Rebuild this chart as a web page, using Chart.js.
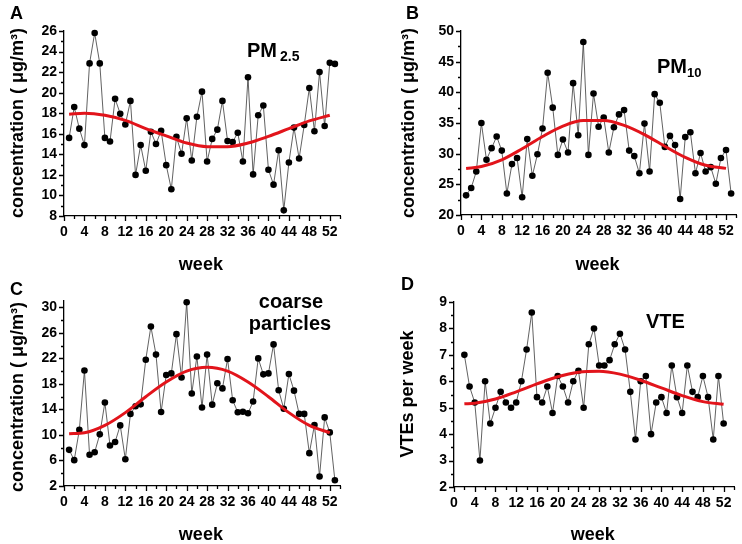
<!DOCTYPE html>
<html>
<head>
<meta charset="utf-8">
<script src="https://cdn.jsdelivr.net/npm/chart.js@4.4.1/dist/chart.umd.min.js"></script>
<style>
  body { margin: 0; background: #fff; }
  #wrap { position: relative; width: 742px; height: 544px; overflow: hidden; }
  .panel { position: absolute; width: 371px; height: 272px; }
</style>
</head>
<body>
<div id="wrap">
  <div class="panel" style="left:0;top:0"><canvas id="chartA" width="371" height="272"></canvas></div>
  <div class="panel" style="left:371px;top:0"><canvas id="chartB" width="371" height="272"></canvas></div>
  <div class="panel" style="left:0;top:272px"><canvas id="chartC" width="371" height="272"></canvas></div>
  <div class="panel" style="left:371px;top:272px"><canvas id="chartD" width="371" height="272"></canvas></div>
</div>
<script>
// weekly values
const weeks = [1,2,3,4,5,6,7,8,9,10,11,12,13,14,15,16,17,18,19,20,21,22,23,24,25,26,27,28,29,30,31,32,33,34,35,36,37,38,39,40,41,42,43,44,45,46,47,48,49,50,51,52,53];
const weeksVte = [2,3,4,5,6,7,8,9,10,11,12,13,14,15,16,17,18,19,20,21,22,23,24,25,26,27,28,29,30,31,32,33,34,35,36,37,38,39,40,41,42,43,44,45,46,47,48,49,50,51,52];

const pm25 = [15.6,18.6,16.5,14.9,22.85,25.8,22.85,15.6,15.25,19.4,17.95,16.9,19.2,12.0,14.9,12.4,16.2,15.0,16.3,12.95,10.6,15.7,14.05,17.5,13.4,17.65,20.1,13.3,15.5,16.4,19.2,15.3,15.2,16.1,13.3,21.5,12.05,17.8,18.75,12.5,11.05,14.4,8.55,13.2,16.6,13.6,16.85,20.45,16.25,22.0,16.75,22.9,22.8];
const pm10 = [23.2,24.4,27.1,35.0,29.0,30.9,32.8,30.5,23.5,28.3,29.3,22.9,32.4,26.4,29.9,34.1,43.2,37.5,29.8,32.3,30.2,41.5,33.0,48.2,29.8,39.8,34.4,35.9,30.2,34.3,36.4,37.1,30.5,29.6,26.8,34.9,27.1,39.7,38.3,31.1,32.9,31.4,22.6,32.7,33.5,26.8,30.1,27.1,27.8,25.1,29.3,30.6,23.5];
const coarse = [7.67,6.05,10.8,20.1,6.9,7.3,10.1,15.1,8.35,8.9,11.5,6.2,13.3,14.5,14.8,21.8,27.0,22.6,13.6,19.4,19.65,25.8,19.0,30.8,16.5,22.3,14.3,22.6,14.75,18.1,17.3,21.9,15.45,13.55,13.65,13.4,15.25,22.0,19.5,19.65,24.2,17.0,14.1,19.55,16.95,13.3,13.3,7.15,11.55,3.5,12.75,10.4,2.9];
const vte = [7.0,5.8,5.2,3.0,6.0,4.4,5.0,5.6,5.2,5.0,5.2,6.0,7.2,8.6,5.4,5.2,5.8,4.8,6.2,5.8,5.2,6.0,6.4,5.0,7.4,8.0,6.6,6.6,6.8,7.4,7.8,7.2,5.6,3.8,6.0,6.2,4.0,5.2,5.4,4.8,6.6,5.4,4.8,6.6,5.6,5.4,6.2,5.4,3.8,6.2,4.4];

// red seasonal fit curves, sampled off the figure
const fitWeeks = [1,4,8,12,16,20,24,28,32,36,40,44,48,52];
const fitWeeksVte = [2,4,8,12,16,20,24,28,32,36,40,44,48,52];
const pm25Fit = [17.9,18.0,17.8,17.3,16.5,15.8,15.1,14.75,14.75,15.1,15.75,16.5,17.25,17.8];
const pm10Fit = [27.6,27.9,29.0,30.8,32.8,34.5,35.4,35.4,34.6,33.1,31.2,29.4,28.1,27.6];
const coarseFit = [10.2,10.35,11.5,13.5,16.0,18.3,20.0,20.6,20.0,18.3,16.0,13.5,11.5,10.35];
const vteFit = [5.15,5.17,5.33,5.6,5.9,6.17,6.34,6.38,6.27,6.04,5.75,5.46,5.23,5.13];

const FONT = '"Liberation Sans", Arial, sans-serif';
Chart.defaults.font.family = FONT;
Chart.defaults.font.size = 14;
Chart.defaults.font.weight = 'bold';
Chart.defaults.color = '#000';

function isMajor(v, start, step) {
  const k = (v - start) / step;
  return Math.abs(k - Math.round(k)) < 1e-6;
}

// minor/major tick marks plus the panel texts
const axisMarks = {
  id: 'axisMarks',
  afterDraw(chart, args, o) {
    const { ctx, scales: { x, y }, chartArea } = chart;
    ctx.save();
    ctx.strokeStyle = '#000';
    ctx.lineWidth = 1.3;
    ctx.beginPath();
    for (let v = x.min; v <= x.max + 1e-6; v += o.xMinor) {
      const px = Math.round(x.getPixelForValue(v)) + 0.5;
      const len = isMajor(v, 0, o.xMajor) ? 5 : 3;
      ctx.moveTo(px, x.top);
      ctx.lineTo(px, x.top + len);
    }
    for (let v = y.min; v <= y.max + 1e-6; v += o.yMinor) {
      const py = Math.round(y.getPixelForValue(v)) + 0.5;
      const len = isMajor(v, y.min, o.yMajor) ? 5 : 3;
      ctx.moveTo(y.right, py);
      ctx.lineTo(y.right - len, py);
    }
    ctx.stroke();

    ctx.fillStyle = '#000';
    ctx.textBaseline = 'alphabetic';
    ctx.textAlign = 'left';
    ctx.font = 'bold 18px ' + FONT;
    ctx.fillText(o.letter, o.letterX, o.letterY);

    o.notes.forEach(n => {
      ctx.font = 'bold ' + n.size + 'px ' + FONT;
      ctx.textAlign = n.align || 'left';
      ctx.fillText(n.text, n.x, n.y);
    });

    ctx.font = 'bold 18px ' + FONT;
    ctx.textAlign = 'center';
    ctx.fillText('week', (chartArea.left + x.getPixelForValue(52)) / 2 + 4, o.weekY);

    ctx.translate(o.titleX, o.titleY);
    ctx.rotate(-Math.PI / 2);
    ctx.textBaseline = 'middle';
    ctx.fillText(o.title, 0, 0);
    ctx.restore();
  }
};

function pairs(xs, ys) {
  return xs.map((w, i) => ({ x: w, y: ys[i] }));
}

function makePanel(id, p) {
  const W = 371, H = 272;
  new Chart(document.getElementById(id), {
    type: 'line',
    data: {
      datasets: [
        {
          data: pairs(p.fitX, p.fit),
          borderColor: '#e2141b',
          borderWidth: 3,
          pointRadius: 0,
          tension: 0.4,
          cubicInterpolationMode: 'monotone',
          fill: false,
          clip: false
        },
        {
          data: pairs(p.obsX, p.obs),
          borderColor: '#3a3a3a',
          borderWidth: 0.8,
          pointRadius: 3.3,
          pointBackgroundColor: '#000',
          pointBorderWidth: 0,
          tension: 0,
          fill: false,
          clip: false
        }
      ]
    },
    options: {
      responsive: false,
      animation: false,
      layout: { padding: { left: 0, top: p.box.top, right: W - p.box.right, bottom: 0 } },
      plugins: {
        legend: { display: false },
        tooltip: { enabled: false },
        axisMarks: p.marks
      },
      scales: {
        x: {
          type: 'linear',
          min: 0,
          max: 54,
          afterFit: s => { s.height = H - p.box.bottom; },
          grid: { display: false, drawTicks: false },
          border: { color: '#000', width: 1.3 },
          ticks: { stepSize: 4, includeBounds: false, autoSkip: false, maxRotation: 0, padding: 8 }
        },
        y: {
          min: p.yMin,
          max: p.yMax,
          afterFit: s => { s.width = p.box.left; },
          grid: { display: false, drawTicks: false },
          border: { color: '#000', width: 1.3 },
          ticks: {
            stepSize: p.marks.yMinor,
            includeBounds: false,
            autoSkip: false,
            padding: 7,
            callback: v => (isMajor(v, p.yMin, p.marks.yMajor) ? v : '')
          }
        }
      }
    },
    plugins: [axisMarks]
  });
}

makePanel('chartA', {
  obsX: weeks, obs: pm25, fitX: fitWeeks, fit: pm25Fit,
  yMin: 8, yMax: 26,
  box: { left: 64, right: 340, top: 31, bottom: 216 },
  marks: {
    xMinor: 2, xMajor: 4, yMinor: 1, yMajor: 2,
    letter: 'A', letterX: 10, letterY: 19, weekY: 270, titleX: 18, titleY: 123,
    title: 'concentration ( \u03bcg/m\u00b3)',
    notes: [{ text: 'PM', x: 247, y: 57, size: 20 }, { text: '2.5', x: 280, y: 61, size: 14 }]
  }
});

makePanel('chartB', {
  obsX: weeks, obs: pm10, fitX: fitWeeks, fit: pm10Fit,
  yMin: 20, yMax: 50,
  box: { left: 90, right: 366, top: 31, bottom: 215 },
  marks: {
    xMinor: 2, xMajor: 4, yMinor: 2.5, yMajor: 5,
    letter: 'B', letterX: 35, letterY: 19, weekY: 270, titleX: 38, titleY: 123,
    title: 'concentration ( \u03bcg/m\u00b3)',
    notes: [{ text: 'PM', x: 286, y: 73, size: 20 }, { text: '10', x: 316, y: 77, size: 13 }]
  }
});

// axis runs one unit past the top tick so the week-24 peak is not cut off
makePanel('chartC', {
  obsX: weeks, obs: coarse, fitX: fitWeeks, fit: coarseFit,
  yMin: 2, yMax: 31,
  box: { left: 64, right: 340, top: 29, bottom: 214 },
  marks: {
    xMinor: 2, xMajor: 4, yMinor: 2, yMajor: 4,
    letter: 'C', letterX: 10, letterY: 23, weekY: 268, titleX: 18, titleY: 125,
    title: 'concentration ( \u03bcg/m\u00b3)',
    notes: [{ text: 'coarse', x: 291, y: 36, size: 20, align: 'center' },
            { text: 'particles', x: 290, y: 58, size: 20, align: 'center' }]
  }
});

makePanel('chartD', {
  obsX: weeksVte, obs: vte, fitX: fitWeeksVte, fit: vteFit,
  yMin: 2, yMax: 9,
  box: { left: 83, right: 363, top: 30, bottom: 215 },
  marks: {
    xMinor: 2, xMajor: 4, yMinor: 0.5, yMajor: 1,
    letter: 'D', letterX: 30, letterY: 18, weekY: 268, titleX: 37, titleY: 122,
    title: 'VTEs per week',
    notes: [{ text: 'VTE', x: 275, y: 56, size: 20 }]
  }
});
</script>
</body>
</html>
